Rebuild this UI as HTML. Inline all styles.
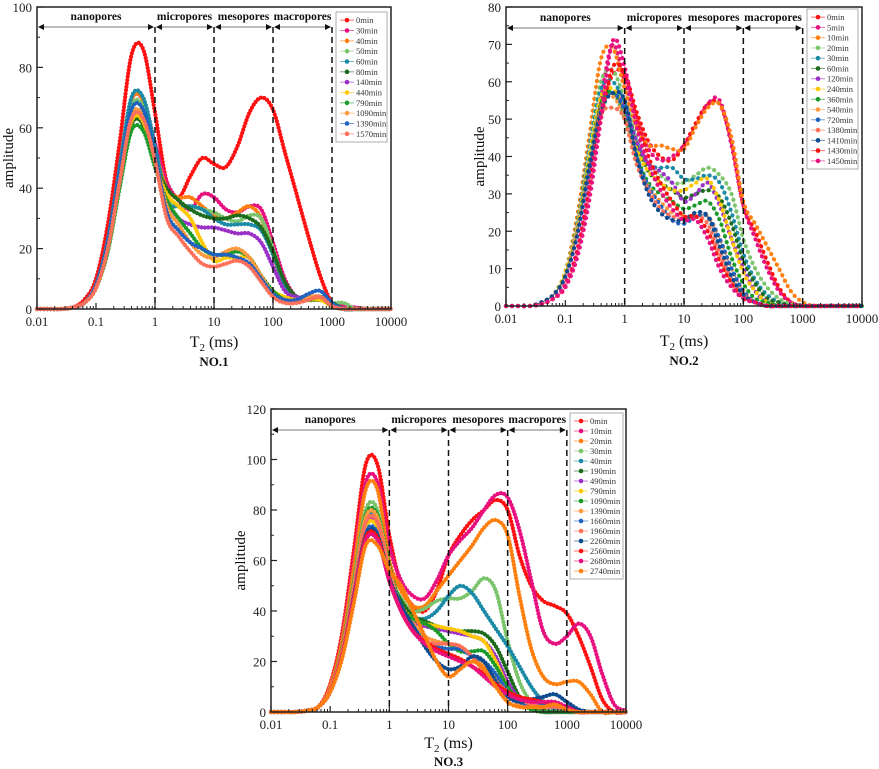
<!DOCTYPE html>
<html><head><meta charset="utf-8">
<style>
html,body{margin:0;padding:0;background:#fff;}
svg{display:block;font-family:"Liberation Serif",serif;}
</style></head>
<body>
<svg id="chart" width="879" height="769" viewBox="0 0 879 769" xmlns="http://www.w3.org/2000/svg"></svg>
<script>
// x grid: log10(T2) from -2 to 4 in 0.2 steps (31 points)
const xLogs = [-2,-1.8,-1.6,-1.4,-1.2,-1,-0.8,-0.6,-0.4,-0.2,0,0.2,0.4,0.6,0.8,1,1.2,1.4,1.6,1.8,2,2.2,2.4,2.6,2.8,3,3.2,3.4,3.6,3.8,4];
const xTickLabels = ["0.01","0.1","1","10","100","1000","10000"];
const zoneLabels = ["nanopores","micropores","mesopores","macropores"];

// ---------- Panel NO.1 ----------
const p1Names = ["0min","30min","40min","50min","60min","80min","140min","440min","790min","1090min","1390min","1570min"];
const p1Colors = ["#ff1010","#e8107e","#ff7f0e","#7cc46c","#1b8aa6","#1c6b1c","#9b30c8","#ffc800","#1a9a2a","#ff9a40","#1f62c0","#ff705a"];
const p1YTicks = [0,20,40,60,80,100];
const p1S0 = [0,0,0,0.5,3,10,28,55,84,86,65,42,37,44,50,48,47,54,65,70,66,52,38,24,11,2,0,0,0,0,0];
const p1S1 = [0,0,0,0.5,2,8,22,46,69,69,55,42,36,33,38,37,33,32,34,33,22,10,4,3,3,2,1,0.5,0,0,0];
const p1S2 = [0,0,0,0.5,2,8,22,46,69,69,53,40,37,37,34,31,30,32,34,30,18,7,3,3,4,2,0,0,0,0,0];
const p1S3 = [0,0,0,0.5,2,8,22,45,67,67,52,38,34,34,33,32,30,29,31,30,20,8,4,3,3,2,2,0,0,0,0];
const p1S4 = [0,0,0,0.5,2,8,23,47,70,70,54,36,34,34,33,30,28,28,28,26,18,8,4,3,3,2,0,0,0,0,0];
const p1S5 = [0,0,0,0.5,2,7,20,41,61,61,48,40,36,33,31,30,30,31,30,27,19,9,4,3,3,2,0,0,0,0,0];
const p1S6 = [0,0,0,0.5,2,7,20,42,63,63,49,36,30,28,27,27,26,25,25,22,14,6,4,4,4,1,0,0,0,0,0];
const p1S7 = [0,0,0,0.5,2,7,20,42,62,62,48,38,34,30,22,16,17,17,17,11,6,4,3,3,3,1,0,0,0,0,0];
const p1S8 = [0,0,0,0.5,2,7,19,40,59,59,47,36,30,25,20,18,18,19,17,11,6,3,3,3,4,1,0,0,0,0,0];
const p1S9 = [0,0,0,0.5,2,8,21,43,64,64,50,34,28,22,18,17,19,20,17,11,5,3,3,4,4,1,0,0,0,0,0];
const p1S10 = [0,0,0,0.5,2,8,22,45,66,66,51,32,26,22,20,18,18,17,15,10,5,3,3,5,6,2,0,0,0,0,0];
const p1S11 = [0,0,0,0.5,2,7,20,42,63,63,49,30,24,19,15,14,15,16,14,9,4,2,2,3,4,1,0,0,0,0,0];
const p1Series = [p1S0,p1S1,p1S2,p1S3,p1S4,p1S5,p1S6,p1S7,p1S8,p1S9,p1S10,p1S11];

// ---------- Panel NO.2 ----------
const p2Names = ["0min","5min","10min","20min","30min","60min","120min","240min","360min","540min","720min","1380min","1410min","1430min","1450min"];
const p2Colors = ["#ff1010","#e8107e","#ff7f0e","#7cc46c","#1b8aa6","#1c6b1c","#9b30c8","#ffc800","#1a9a2a","#ff9a40","#1f62c0","#ff705a","#0d4a90","#ff1010","#e8107e"];
const p2YTicks = [0,10,20,30,40,50,60,70,80];
const p2S0 = [0,0,0,1,3,8,20,36,52,62,62,52,44,40,39,43,49,54,54,44,27,20,12,5,1,0,0,0,0,0,0];
const p2S1 = [0,0,0,0.5,2,6,15,32,55,70,60,50,42,39,40,43,48,54,55,43,27,18,10,4,1,0,0,0,0,0,0];
const p2S2 = [0,0,0,1,3,9,24,45,66,69,58,48,43,43,42,42,48,53,54,45,28,22,16,10,4,1,0,0,0,0,0];
const p2S3 = [0,0,0,1,3,9,22,42,60,63,55,45,38,35,33,33,35,37,35,30,18,10,5,2,0.5,0,0,0,0,0,0];
const p2S4 = [0,0,0,1,3,9,22,42,58,60,54,44,38,37,37,34,34,35,33,25,14,7,3,1,0,0,0,0,0,0,0];
const p2S5 = [0,0,0,1,3,9,21,40,55,57,52,43,36,33,31,29,30,31,29,22,12,6,2,1,0,0,0,0,0,0,0];
const p2S6 = [0,0,0,1,3,8,20,38,54,57,53,44,38,36,33,28,30,33,27,18,10,4,1,0,0,0,0,0,0,0,0];
const p2S7 = [0,0,0,1,3,9,21,40,56,58,52,42,36,33,31,31,33,34,28,18,9,4,1,0,0,0,0,0,0,0,0];
const p2S8 = [0,0,0,1,3,8,20,38,54,57,50,40,33,30,28,26,27,28,23,13,6,2,1,0,0,0,0,0,0,0,0];
const p2S9 = [0,0,0,1,3,8,20,37,53,56,50,38,32,28,25,24,24,24,18,10,4,1,0,0,0,0,0,0,0,0,0];
const p2S10 = [0,0,0,1,3,8,19,36,52,57,52,40,32,27,23,22,24,24,18,10,4,1,0,0,0,0,0,0,0,0,0];
const p2S11 = [0,0,0,1,3,8,19,37,51,53,50,38,31,26,24,23,24,22,14,7,3,1,0,0,0,0,0,0,0,0,0];
const p2S12 = [0,0,0,1,3,8,19,37,52,57,55,40,30,25,23,23,25,24,16,8,3,1,0,0,0,0,0,0,0,0,0];
const p2S13 = [0,0,0,0.5,2,5,14,30,50,64,62,50,40,33,28,24,24,20,12,6,2,1,0,0,0,0,0,0,0,0,0];
const p2S14 = [0,0,0,0.5,2,5,13,28,50,71,64,48,38,31,26,23,23,18,10,5,2,1,0,0,0,0,0,0,0,0,0];
const p2Series = [p2S0,p2S1,p2S2,p2S3,p2S4,p2S5,p2S6,p2S7,p2S8,p2S9,p2S10,p2S11,p2S12,p2S13,p2S14];

// ---------- Panel NO.3 ----------
const p3Names = ["0min","10min","20min","30min","40min","190min","490min","790min","1090min","1390min","1660min","1960min","2260min","2560min","2680min","2740min"];
const p3Colors = ["#ff1010","#e8107e","#ff7f0e","#7cc46c","#1b8aa6","#1c6b1c","#9b30c8","#ffc800","#1a9a2a","#ff9a40","#1f62c0","#ff705a","#0d4a90","#ff1010","#e8107e","#ff7f0e"];
const p3YTicks = [0,20,40,60,80,100,120];
const p3S0 = [0,0,0,0.5,2,11,31,64,98,98,70,50,42,40,48,62,70,76,80,84,80,62,50,44,42,39,30,18,5,0,0];
const p3S1 = [0,0,0,0.5,2,10,29,60,91,91,66,52,46,45,52,62,68,73,80,86,85,72,52,32,27,30,35,30,15,3,0.5];
const p3S2 = [0,0,0,0.5,2,10,28,57,88,88,60,48,42,42,48,54,60,66,73,76,70,46,25,14,11,12,12,7,0,0,0];
const p3S3 = [0,0,0,0.5,2,9,25,52,80,80,55,45,40,41,44,45,45,48,53,48,28,12,4,1,0,0,0,0,0,0,0];
const p3S4 = [0,0,0,0.5,2,9,24,50,76,76,54,44,38,37,40,46,50,47,40,33,26,18,10,4,1,0,0,0,0,0,0];
const p3S5 = [0,0,0,0.5,2,9,23,48,74,74,54,44,38,36,34,33,32,32,31,26,16,6,2,0.5,0,0,0,0,0,0,0];
const p3S6 = [0,0,0,0.5,2,9,23,48,74,74,54,42,36,34,33,32,31,30,28,22,12,5,2,0,0,0,0,0,0,0,0];
const p3S7 = [0,0,0,0.5,2,8,23,48,73,73,54,42,37,35,34,33,32,30,28,20,10,4,1,0,0,0,0,0,0,0,0];
const p3S8 = [0,0,0,0.5,2,9,25,51,78,78,58,42,37,35,32,27,24,24,24,18,10,4,1,0,0,0,0,0,0,0,0];
const p3S9 = [0,0,0,0.5,2,9,24,50,77,77,57,40,35,30,28,27,26,22,18,13,7,3,2,2,3,2,0,0,0,0,0];
const p3S10 = [0,0,0,0.5,2,8,22,46,71,71,54,42,34,28,26,25,25,22,20,15,8,4,3,3,3,2,0,0,0,0,0];
const p3S11 = [0,0,0,0.5,2,9,24,49,75,75,56,40,33,28,27,27,26,22,16,12,8,5,3,2,2,1,0,0,0,0,0];
const p3S12 = [0,0,0,0.5,2,8,22,46,70,70,53,42,34,26,20,17,18,22,20,12,6,4,5,6,7,4,1,0,0,0,0];
const p3S13 = [0,0,0,0.5,2,8,22,45,69,69,52,40,32,28,25,23,21,18,15,11,8,6,5,4,3,2,0,0,0,0,0];
const p3S14 = [0,0,0,0.5,2,8,22,45,68,68,52,40,32,27,24,22,20,18,14,10,7,5,4,4,4,2,0,0,0,0,0];
const p3S15 = [0,0,0,0.5,2,8,21,43,66,66,56,50,40,30,20,14,17,20,17,10,4,2,2,2,3,1,0,0,0,0,0];
const p3Series = [p3S0,p3S1,p3S2,p3S3,p3S4,p3S5,p3S6,p3S7,p3S8,p3S9,p3S10,p3S11,p3S12,p3S13,p3S14,p3S15];

const NS = "http://www.w3.org/2000/svg";
const svg = document.getElementById("chart");
function mk(tag, attrs, parent, text){
  const e = document.createElementNS(NS, tag);
  for (const k in attrs) e.setAttribute(k, attrs[k]);
  if (text !== undefined) e.textContent = text;
  (parent || svg).appendChild(e);
  return e;
}

function smoothPath(pts){
  let d = "M" + pts[0][0].toFixed(1) + "," + pts[0][1].toFixed(1);
  for (let i = 0; i < pts.length - 1; i++){
    const p0 = pts[Math.max(0,i-1)], p1 = pts[i], p2 = pts[i+1], p3 = pts[Math.min(pts.length-1,i+2)];
    const c1x = p1[0] + (p2[0]-p0[0])/6, c1y = p1[1] + (p2[1]-p0[1])/6;
    const c2x = p2[0] - (p3[0]-p1[0])/6, c2y = p2[1] - (p3[1]-p1[1])/6;
    d += " C" + c1x.toFixed(1) + "," + c1y.toFixed(1) + " " + c2x.toFixed(1) + "," + c2y.toFixed(1) + " " + p2[0].toFixed(1) + "," + p2[1].toFixed(1);
  }
  return d;
}

function drawPanel(cfg){
  const g = mk("g", {});
  
  
  const L = cfg.left, R = cfg.right, T = cfg.top, B = cfg.bottom;
  const yMax = cfg.yTicks[cfg.yTicks.length-1];
  const xs = v => L + (v + 2) / 6 * (R - L);
  const ys = v => B - v / yMax * (B - T);

  const sg = mk("g", {}, g);
  
  
  cfg.series.forEach((vals, si) => {
    const pts = vals.map((v, i) => [xs(xLogs[i]), ys(v)]);
    const d = smoothPath(pts);
    if (cfg.thinLine){
      const ln = mk("path", {d: d, fill: "none", stroke: cfg.colors[si], "stroke-width": 0.8, opacity: 0.6}, sg);
      
      
    }
    const p = mk("path", {d: d, fill: "none", stroke: cfg.colors[si], "stroke-width": cfg.dotW, "stroke-linecap": "round", "stroke-dasharray": "0 " + cfg.dotGap}, sg);
    
    
  });

  const fr = mk("rect", {x: L, y: T, width: R - L, height: B - T, fill: "none", stroke: "#222", "stroke-width": 1.5}, g);
  
  

  for (let dcd = 0; dcd < 6; dcd++){
    for (let m = 2; m <= 9; m++){
      const xx = xs(-2 + dcd + Math.log10(m));
      const t = mk("line", {x1: xx, x2: xx, y1: B, y2: B - 3, stroke: "#222", "stroke-width": 1}, g);
      
      
    }
  }
  xTickLabels.forEach((lab, i) => {
    const xx = xs(-2 + i);
    const t = mk("line", {x1: xx, x2: xx, y1: B, y2: B - 6, stroke: "#222", "stroke-width": 1.2}, g);
    
    
    const tx = mk("text", {x: xx, y: B + 17, "text-anchor": "middle", "font-size": 13, fill: "#222"}, g, lab);
    
    
  });
  cfg.yTicks.forEach((v, i) => {
    const yy = ys(v);
    const t = mk("line", {x1: L, x2: L + 6, y1: yy, y2: yy, stroke: "#222", "stroke-width": 1.2}, g);
    
    
    const tx = mk("text", {x: L - 5, y: yy + 5, "text-anchor": "end", "font-size": 13, fill: "#222"}, g, String(v));
    
    
    if (i < cfg.yTicks.length - 1){
      const ym = ys(v + (cfg.yTicks[1] - cfg.yTicks[0]) / 2);
      const t2 = mk("line", {x1: L, x2: L + 3, y1: ym, y2: ym, stroke: "#222", "stroke-width": 1}, g);
      
      
    }
  });

  [0,1,2,3].forEach(k => {
    const xx = xs(k);
    const dl = mk("line", {x1: xx, x2: xx, y1: cfg.arrowY, y2: B, stroke: "#111", "stroke-width": 1.5, "stroke-dasharray": "6 4"}, g);
    
    
  });
  const bounds = [-2,0,1,2,3];
  zoneLabels.forEach((lab, k) => {
    const x1 = xs(bounds[k]) + 1, x2 = xs(bounds[k+1]) - 1;
    const ar = mk("line", {x1: x1 + 3, x2: x2 - 3, y1: cfg.arrowY, y2: cfg.arrowY, stroke: "#777", "stroke-width": 1}, g);
    
    
    const h1 = mk("path", {d: `M${x1},${cfg.arrowY} l6,-3 l0,6 z`, fill: "#111"}, g);
    
    
    const h2 = mk("path", {d: `M${x2},${cfg.arrowY} l-6,-3 l0,6 z`, fill: "#111"}, g);
    
    
    const tx = mk("text", {x: (x1 + x2) / 2, y: cfg.arrowY - 7, "text-anchor": "middle", "font-size": 11.5, "font-weight": "bold", fill: "#111"}, g, lab);
    
    
  });

  const lg = mk("g", {}, g);
  
  
  const lb = mk("rect", {x: cfg.legX, y: cfg.legY, width: cfg.legW, height: cfg.legH, fill: "#fff", stroke: "#999", "stroke-width": 0.8}, lg);
  
  
  const step = (cfg.legH - 6) / cfg.names.length;
  cfg.names.forEach((n, i) => {
    const yy = cfg.legY + 3 + step * (i + 0.5);
    const e = mk("g", {}, lg);
    
    
    mk("line", {x1: cfg.legX + 4, x2: cfg.legX + 18, y1: yy, y2: yy, stroke: cfg.colors[i], "stroke-width": 1, opacity: 0.6}, e);
    mk("circle", {cx: cfg.legX + 11, cy: yy, r: 2.3, fill: cfg.colors[i]}, e);
    mk("text", {x: cfg.legX + 20, y: yy + 3, "font-size": 8.5, fill: "#333"}, e, n);
  });

  const at = mk("text", {x: cfg.ampX, y: (T + B) / 2, "text-anchor": "middle", "font-size": 15, fill: "#111", transform: `rotate(-90 ${cfg.ampX} ${(T + B) / 2})`}, g, "amplitude");
  
  
  const xt = mk("text", {x: (L + R) / 2, y: B + cfg.xtOff, "text-anchor": "middle", "font-size": 16, fill: "#111"}, g);
  
  
  mk("tspan", {}, xt, "T");
  mk("tspan", {"font-size": 11, dy: 4}, xt, "2");
  mk("tspan", {dy: -4}, xt, " (ms)");
  const pt = mk("text", {x: (L + R) / 2, y: B + cfg.ttOff, "text-anchor": "middle", "font-size": 13, "font-weight": "bold", fill: "#111"}, g, cfg.title);
  
  
}

drawPanel({id: "panel-no1", title: "NO.1", left: 37, right: 391, top: 7, bottom: 309, yTicks: p1YTicks,
  series: p1Series, names: p1Names, colors: p1Colors, dotW: 4.2, dotGap: 3.4, thinLine: false,
  arrowY: 27, legX: 336, legY: 12, legW: 51, legH: 130, ampX: 13, xtOff: 38, ttOff: 57});
drawPanel({id: "panel-no2", title: "NO.2", left: 506, right: 862, top: 7, bottom: 306, yTicks: p2YTicks,
  series: p2Series, names: p2Names, colors: p2Colors, dotW: 4.2, dotGap: 6, thinLine: true,
  arrowY: 28, legX: 807, legY: 9, legW: 51, legH: 160, ampX: 484, xtOff: 40, ttOff: 59});
drawPanel({id: "panel-no3", title: "NO.3", left: 271, right: 626, top: 409, bottom: 712, yTicks: p3YTicks,
  series: p3Series, names: p3Names, colors: p3Colors, dotW: 4.2, dotGap: 3.4, thinLine: false,
  arrowY: 430, legX: 570, legY: 413, legW: 53, legH: 166, ampX: 245, xtOff: 36, ttOff: 54});
</script>
</body></html>
